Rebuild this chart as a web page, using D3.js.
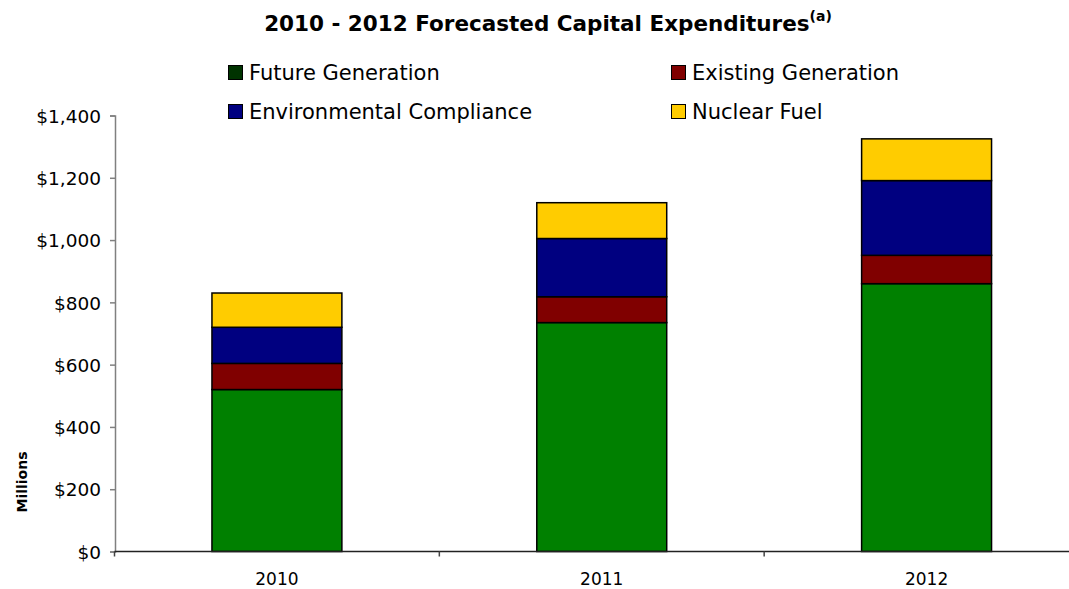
<!DOCTYPE html>
<html>
<head>
<meta charset="utf-8">
<script src="https://cdn.jsdelivr.net/npm/d3@7/dist/d3.min.js"></script>
<style>
  html, body { margin: 0; padding: 0; background: #fff; }
  svg { display: block; }
  text { font-family: "DejaVu Sans", Verdana, sans-serif; fill: #000; }
</style>
</head>
<body>
<svg id="chart" width="1069" height="589"></svg>
<script>
// Forecasted capital expenditures, $ millions
const years = ["2010", "2011", "2012"];
const seriesNames = ["Future Generation", "Existing Generation", "Environmental Compliance", "Nuclear Fuel"];
const futureGeneration = [520, 735, 860];
const existingGeneration = [84, 83, 91];
const environmentalCompliance = [116, 187, 240];
const nuclearFuel = [110, 115, 134];
const yTicks = [0, 200, 400, 600, 800, 1000, 1200, 1400];

const barColors = ["#008000", "#800000", "#000080", "#FFCC00"];
const swatchColors = ["#003300", "#800000", "#000080", "#FFCC00"];

const rows = years.map((y, i) => ({
  year: y,
  "Future Generation": futureGeneration[i],
  "Existing Generation": existingGeneration[i],
  "Environmental Compliance": environmentalCompliance[i],
  "Nuclear Fuel": nuclearFuel[i]
}));

const svg = d3.select("#chart");

const x = d3.scaleBand().domain(years).range([114.5, 1089]).paddingInner(0.6).paddingOuter(0.3);
const y = d3.scaleLinear().domain([0, 1400]).range([551.5, 115.5]);

const stack = d3.stack().keys(seriesNames)(rows);
const color = d3.scaleOrdinal().domain(seriesNames).range(barColors);

// Stacked bars
svg.append("g").selectAll("g")
  .data(stack)
  .join("g")
  .attr("fill", d => color(d.key))
  .selectAll("rect")
  .data(d => d)
  .join("rect")
  .attr("x", d => x(d.data.year))
  .attr("width", x.bandwidth())
  .attr("y", d => y(d[1]))
  .attr("height", d => y(d[0]) - y(d[1]))
  .attr("stroke", "#000")
  .attr("stroke-width", 1.5);

// Y axis
const yAxis = svg.append("g")
  .attr("transform", "translate(115,0)")
  .call(d3.axisLeft(y).tickValues(yTicks).tickSize(5).tickPadding(9)
    .tickFormat(d => "$" + d3.format(",")(d)));
yAxis.select(".domain").attr("stroke", "#808080").attr("stroke-width", 1.5);
yAxis.selectAll(".tick line").attr("stroke", "#808080").attr("stroke-width", 1.5);
yAxis.selectAll(".tick text").attr("font-size", 18.5).attr("font-family", null).attr("dy", "0.36em");

// X axis with ticks at category boundaries
const xAxisG = svg.append("g").attr("transform", "translate(0,551.5)");
xAxisG.append("line")
  .attr("x1", 114.5).attr("x2", 1089)
  .attr("stroke", "#222").attr("stroke-width", 1.5);
const boundaries = [114.5].concat(years.map(yr => x(yr) - x.step() * x.paddingOuter() + x.step()));
xAxisG.selectAll("line.tick")
  .data(boundaries)
  .join("line")
  .attr("class", "tick")
  .attr("x1", d => d).attr("x2", d => d)
  .attr("y1", 0).attr("y2", 5)
  .attr("stroke", "#444").attr("stroke-width", 1.5);
xAxisG.selectAll("text")
  .data(years)
  .join("text")
  .attr("x", d => x(d) + x.bandwidth() / 2)
  .attr("y", 33)
  .attr("text-anchor", "middle")
  .attr("font-size", 17)
  .text(d => d);

// Axis title
svg.append("text")
  .attr("transform", "translate(27,482) rotate(-90)")
  .attr("text-anchor", "middle")
  .attr("font-size", 14)
  .attr("font-weight", "bold")
  .text("Millions");

// Chart title
const title = svg.append("text")
  .attr("x", 548)
  .attr("y", 31)
  .attr("text-anchor", "middle")
  .attr("font-weight", "bold")
  .attr("font-size", 21.5);
title.append("tspan").text("2010 - 2012 Forecasted Capital Expenditures");
title.append("tspan").attr("dy", -10).attr("font-size", 14).text("(a)");

// Legend
const legendPos = [[228, 80], [671, 80], [228, 119], [671, 119]];
const legend = svg.append("g").selectAll("g")
  .data(seriesNames)
  .join("g")
  .attr("transform", (d, i) => `translate(${legendPos[i][0]},${legendPos[i][1]})`);
legend.append("rect")
  .attr("x", 0.5).attr("y", -14.5)
  .attr("width", 14).attr("height", 14)
  .attr("fill", (d, i) => swatchColors[i])
  .attr("stroke", "#000").attr("stroke-width", 1);
legend.append("text")
  .attr("x", 21)
  .attr("y", 0)
  .attr("font-size", 21)
  .text(d => d);
</script>
</body>
</html>
